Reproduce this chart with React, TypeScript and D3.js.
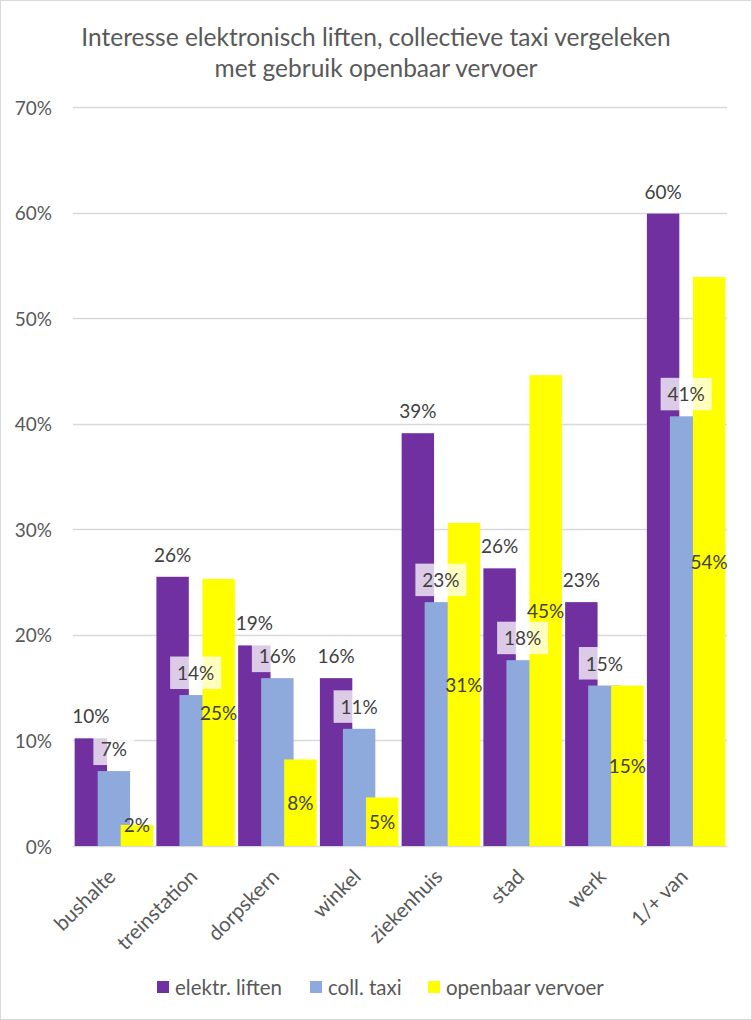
import React from "react";
import * as d3 from "d3";

const categories = ["bushalte", "treinstation", "dorpskern", "winkel", "ziekenhuis", "stad", "werk", "1/+ van"];
const seriesNames = ["elektr. liften", "coll. taxi", "openbaar vervoer"];
const elektrLiften = [10.2, 25.5, 19.0, 15.9, 39.1, 26.3, 23.1, 59.9];
const collTaxi = [7.1, 14.3, 15.9, 11.1, 23.1, 17.6, 15.2, 40.7];
const openbaarVervoer = [2.0, 25.3, 8.2, 4.6, 30.6, 44.6, 15.2, 53.9];
const yTicks = [0, 10, 20, 30, 40, 50, 60, 70];
const titleLines = ["Interesse elektronisch liften, collectieve taxi vergeleken", "met gebruik openbaar vervoer"];

const colors = ["#7030A0", "#8EA9DB", "#FFFF00"];
const textColor = "#595959";
const gridColor = "#D9D9D9";
const FONT = "Lato, 'Open Sans', sans-serif";

export default function App() {
  const W = 752, H = 1020;
  const series = [elektrLiften, collTaxi, openbaarVervoer];
  const x = d3.scaleBand<string>().domain(categories).range([73, 727]).paddingInner(0).paddingOuter(0);
  const y = d3.scaleLinear().domain([0, 70]).range([846, 107]);
  const bw = x.bandwidth();
  const groupW = bw * 0.96;
  const overlapRatio = 0.71;
  const barW = groupW / (1 + 2 * overlapRatio);
  const step = barW * overlapRatio;
  const groupStart = (c: string) => (x(c) as number) + (bw - groupW) / 2;
  const barX = (c: string, s: number) => groupStart(c) + s * step;
  const y0 = y(0);
  const fmt = (v: number) => `${Math.round(v)}%`;

  return (
    <svg width={W} height={H} style={{ position: "absolute", left: 0, top: 0, background: "#fff" }} fontFamily={FONT}>
      <rect x={0.5} y={0.5} width={W - 1} height={H - 1} fill="#fff" stroke={gridColor} />
      {titleLines.map((t, i) => (
        <text key={i} x={W / 2} y={36 + i * 31} textAnchor="middle" dominantBaseline="central" fontSize={24.5} fill={textColor}>
          {t}
        </text>
      ))}
      {yTicks.map((t) => (
        <g key={t}>
          <line x1={73} x2={727} y1={Math.round(y(t)) + 0.5} y2={Math.round(y(t)) + 0.5} stroke={gridColor} strokeWidth={1.5} />
          <text x={52} y={y(t)} textAnchor="end" dominantBaseline="central" fontSize={19} fill={textColor}>
            {t}%
          </text>
        </g>
      ))}
      {series.map((vals, s) =>
        categories.map((c, i) => (
          <rect key={`${s}-${i}`} x={barX(c, s)} y={y(vals[i])} width={barW} height={y0 - y(vals[i])} fill={colors[s]} />
        ))
      )}
      {categories.map((c, i) => {
        const v = elektrLiften[i];
        return (
          <text key={`l0-${i}`} x={barX(c, 0) + barW / 2} y={y(v) - 22.5} textAnchor="middle" dominantBaseline="central" fontSize={19} fill="#404040">
            {fmt(v)}
          </text>
        );
      })}
      {categories.map((c, i) => {
        const v = collTaxi[i];
        const label = fmt(v);
        const bwBox = label.length >= 3 ? 51 : 41;
        const cx = barX(c, 1) + barW / 2;
        return (
          <g key={`l1-${i}`}>
            <rect x={cx - bwBox / 2} y={y(v) - 38.5} width={bwBox} height={32.5} fill="#fff" fillOpacity={0.75} />
            <text x={cx} y={y(v) - 22.5} textAnchor="middle" dominantBaseline="central" fontSize={19} fill="#404040">
              {label}
            </text>
          </g>
        );
      })}
      {categories.map((c, i) => {
        const v = openbaarVervoer[i];
        const cy = Math.min((y(v) + y0) / 2, y0 - 22);
        return (
          <text key={`l2-${i}`} x={barX(c, 2) + barW / 2} y={cy} textAnchor="middle" dominantBaseline="central" fontSize={19} fill="#404040">
            {fmt(v)}
          </text>
        );
      })}
      {categories.map((c) => {
        const cx = (x(c) as number) + bw / 2;
        return (
          <text key={c} transform={`translate(${cx + 3},${878}) rotate(-45)`} textAnchor="end" fontSize={20.5} fill={textColor}>
            {c}
          </text>
        );
      })}
      {seriesNames.map((n, i) => {
        const lx = [157, 310, 428][i];
        return (
          <g key={n}>
            <rect x={lx} y={981} width={12} height={12} fill={colors[i]} />
            <text x={lx + 18} y={987} dominantBaseline="central" fontSize={20.5} fill={textColor}>
              {n}
            </text>
          </g>
        );
      })}
    </svg>
  );
}
